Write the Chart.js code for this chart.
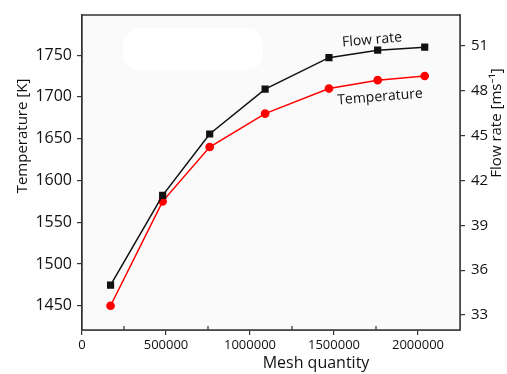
<!DOCTYPE html>
<html>
<head>
<meta charset="utf-8">
<script src="https://cdn.jsdelivr.net/npm/chart.js@4"></script>
<style>
  html, body { margin: 0; padding: 0; background: #fff; }
  #wrap { width: 507px; height: 374px; }
</style>
</head>
<body>
<div id="wrap"><canvas id="chart" width="507" height="374"></canvas></div>
<script>
// values
const meshQuantity = [170000, 480000, 760000, 1090000, 1470000, 1760000, 2040000];
const temperature = [1450, 1575, 1640, 1680, 1710, 1720, 1725];
const flowRate = [35.0, 41.0, 45.1, 48.1, 50.2, 50.7, 50.9];

const xTicks = [0, 500000, 1000000, 1500000, 2000000];
const xMinorTicks = [250000, 750000, 1250000, 1750000];

const FONT = '"Open Sans", "Noto Sans", sans-serif';
const AXIS = '#333';

function pts(ys) {
    return meshQuantity.map((x, i) => ({ x: x, y: ys[i] }));
}

// frame, background, minor ticks, titles and in-plot labels
const decor = {
    id: 'decor',
    beforeDatasetsDraw(chart) {
        const { ctx, chartArea: a } = chart;
        ctx.save();
        ctx.fillStyle = '#fafafa';
        ctx.fillRect(a.left, a.top, a.right - a.left, a.bottom - a.top);
        // blank patch top-left
        ctx.fillStyle = '#ffffff';
        ctx.beginPath();
        ctx.roundRect(123, 28, 140, 42, 16);
        ctx.fill();
        ctx.restore();
    },
    afterDraw(chart) {
        const { ctx, chartArea: a, scales } = chart;
        ctx.save();
        ctx.strokeStyle = AXIS;
        ctx.lineWidth = 1.5;
        ctx.strokeRect(a.left, a.top, a.right - a.left, a.bottom - a.top);

        ctx.lineWidth = 1.2;
        xMinorTicks.forEach(v => {
            const px = scales.x.getPixelForValue(v);
            ctx.beginPath();
            ctx.moveTo(px, a.bottom);
            ctx.lineTo(px, a.bottom - 4);
            ctx.stroke();
        });

        ctx.fillStyle = '#111';
        ctx.textAlign = 'center';
        ctx.textBaseline = 'middle';

        ctx.font = '16px ' + FONT;
        ctx.fillText('Mesh quantity', 316, 363);

        ctx.save();
        ctx.translate(23, 136);
        ctx.rotate(-Math.PI / 2);
        ctx.font = '15px ' + FONT;
        ctx.fillText('Temperature [K]', 0, 0);
        ctx.restore();

        ctx.save();
        ctx.translate(497, 123);
        ctx.rotate(-Math.PI / 2);
        ctx.font = '15px ' + FONT;
        ctx.fillText('Flow rate [ms\u207B\u00B9]', 0, 0);
        ctx.restore();

        ctx.font = '14px ' + FONT;
        ctx.save();
        ctx.translate(372, 40);
        ctx.rotate(-0.085);
        ctx.fillText('Flow rate', 0, 0);
        ctx.restore();

        ctx.save();
        ctx.translate(380, 97);
        ctx.rotate(-0.08);
        ctx.fillText('Temperature', 0, 0);
        ctx.restore();

        ctx.restore();
    }
};

const tickGrid = { drawOnChartArea: false, drawTicks: true, tickLength: 5, color: AXIS, lineWidth: 1.2 };

new Chart(document.getElementById('chart'), {
    type: 'line',
    data: {
        datasets: [{
            label: 'Flow rate',
            data: pts(flowRate),
            yAxisID: 'y1',
            borderColor: '#111',
            backgroundColor: '#111',
            borderWidth: 1.5,
            pointStyle: 'rect',
            pointRadius: 4,
            pointHoverRadius: 4
        }, {
            label: 'Temperature',
            data: pts(temperature),
            yAxisID: 'y',
            borderColor: '#ff0000',
            backgroundColor: '#ff0000',
            borderWidth: 1.5,
            pointStyle: 'circle',
            pointRadius: 3.6,
            pointHoverRadius: 3.6
        }]
    },
    options: {
        responsive: false,
        animation: false,
        layout: { padding: { top: 15, left: 0, right: 0, bottom: 0 } },
        plugins: { legend: { display: false }, tooltip: { enabled: false } },
        scales: {
            x: {
                type: 'linear',
                min: 0,
                max: 2250000,
                grid: tickGrid,
                border: { color: AXIS, width: 1.5 },
                afterBuildTicks(s) { s.ticks = xTicks.map(v => ({ value: v })); },
                ticks: {
                    autoSkip: false,
                    maxRotation: 0,
                    padding: 2,
                    color: '#111',
                    font: { family: FONT, size: 13 },
                    callback: v => String(v)
                },
                afterFit(s) { s.height = 44; }
            },
            y: {
                position: 'left',
                min: 1421,
                max: 1798,
                grid: tickGrid,
                border: { color: AXIS, width: 1.5 },
                ticks: {
                    stepSize: 50,
                    includeBounds: false,
                    padding: 5,
                    color: '#111',
                    font: { family: FONT, size: 16 },
                    callback: v => String(v)
                },
                afterFit(s) { s.width = 82; }
            },
            y1: {
                position: 'right',
                min: 32,
                max: 53.05,
                grid: tickGrid,
                border: { color: AXIS, width: 1.5 },
                ticks: {
                    stepSize: 3,
                    includeBounds: false,
                    padding: 6,
                    color: '#111',
                    font: { family: FONT, size: 15 },
                    callback: v => String(v)
                },
                afterFit(s) { s.width = 47; }
            }
        }
    },
    plugins: [decor]
});
</script>
</body>
</html>
